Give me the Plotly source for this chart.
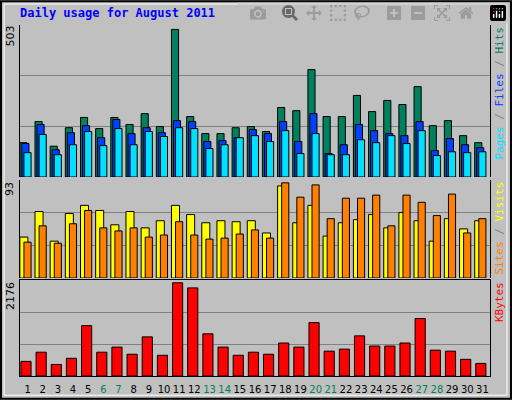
import plotly.graph_objects as go

days = list(range(1, 32))
weekend = [6, 7, 13, 14, 20, 21, 27, 28]

hits = [117, 189, 105, 168, 203, 165, 203, 179, 216, 172, 503, 206, 148, 148, 168, 172,
        155, 237, 226, 366, 206, 206, 278, 223, 261, 247, 308, 175, 192, 141, 117]
files = [114, 179, 93, 151, 175, 134, 196, 148, 168, 151, 192, 189, 121, 124, 134, 162,
         148, 189, 121, 216, 80, 110, 179, 158, 148, 141, 189, 90, 131, 110, 100]
pages = [83, 145, 76, 110, 155, 107, 165, 110, 155, 138, 168, 165, 97, 110, 134, 141,
         121, 158, 80, 148, 76, 76, 127, 117, 141, 114, 158, 73, 86, 83, 86]
sites = [40, 65, 36, 63, 71, 66, 52, 65, 49, 56, 71, 62, 54, 56, 55, 56,
         44, 90, 54, 71, 41, 54, 57, 62, 49, 64, 56, 36, 58, 48, 56]
visits = [35, 51, 34, 53, 66, 49, 46, 49, 40, 42, 55, 42, 38, 39, 43, 47,
          39, 93, 79, 91, 58, 78, 78, 81, 51, 81, 74, 61, 82, 44, 58]
kbytes = [341, 556, 270, 413, 1175, 556, 675, 508, 913, 484, 2176, 2057, 985, 675, 484, 556,
          508, 770, 675, 1247, 580, 627, 937, 699, 699, 770, 1342, 603, 580, 389, 294]

line = dict(color="black", width=1)
fig = go.Figure()

def bars(y, color, offset, width, axis):
    fig.add_trace(go.Bar(x=days, y=y, marker=dict(color=color, line=line),
                         offset=offset, width=width, xaxis="x", yaxis=axis))

bars(hits, "#00805C", -0.51, 0.47, "y")
bars(files, "#0040FF", -0.38, 0.47, "y")
bars(pages, "#00E0FF", -0.24, 0.47, "y")
bars(sites, "#FFFF00", -0.51, 0.53, "y2")
bars(visits, "#FF8000", -0.24, 0.47, "y2")
bars(kbytes, "#FF0000", -0.44, 0.67, "y3")

ticktext = [f"<span style='color:#00805C'>{d}</span>" if d in weekend else str(d) for d in days]

def yax(top, dom):
    return dict(domain=dom, range=[0, top * 1.03], tickvals=[top * 1.03 / 3, top * 2.06 / 3],
                showticklabels=False, gridcolor="#808080", gridwidth=1, zeroline=False,
                showline=True, linecolor="black", mirror=True, anchor="x")

fig.update_layout(
    width=512, height=400, margin=dict(l=0, r=0, t=0, b=0),
    paper_bgcolor="#C0C0C0", plot_bgcolor="#C0C0C0",
    barmode="overlay", showlegend=False,
    font=dict(family="DejaVu Sans", size=11, color="black"),
    xaxis=dict(domain=[20 / 512, 490 / 512], range=[0.5, 31.5], tickvals=days, ticktext=ticktext,
               tickangle=0, tickfont=dict(size=10),
               showgrid=False, showline=True, linecolor="black", mirror=True, anchor="y3",
               ticks="", ticklabelstandoff=4, fixedrange=True),
    yaxis=yax(503, [0.5575, 0.9375]),
    yaxis2=yax(93, [0.305, 0.55]),
    yaxis3=yax(2176, [0.06, 0.3]),
)

for y, t in [(0.94, "503"), (0.55, "93"), (0.3, "2176")]:
    fig.add_annotation(x=10 / 512, y=y, xref="paper", yref="paper", text=t, textangle=-90,
                       showarrow=False, xanchor="center", yanchor="top", font=dict(size=11))

fig.add_annotation(x=18 / 512, y=0.99, xref="paper", yref="paper", showarrow=False,
                   xanchor="left", yanchor="top", text="<b>Daily usage for August 2011</b>",
                   font=dict(family="DejaVu Sans Mono", size=12, color="#0000FF"))
right = [
    (0.9375, "<span style='color:#00E0FF'>Pages</span> / <span style='color:#0040FF'>Files</span>"
             " / <span style='color:#00805C'>Hits</span>"),
    (0.55, "<span style='color:#FF8000'>Sites</span> / <span style='color:#FFFF00'>Visits</span>"),
    (0.3, "<span style='color:#FF0000'>KBytes</span>"),
]
for y, t in right:
    fig.add_annotation(x=499 / 512, y=y, xref="paper", yref="paper", text=t,
                       textangle=-90, showarrow=False, xanchor="center", yanchor="top",
                       font=dict(family="DejaVu Sans Mono", size=11, color="#808080"))

fig.add_shape(type="rect", xref="paper", yref="paper", x0=0.002, y0=0.003, x1=0.998, y1=0.997,
              line=dict(color="black", width=2))
fig.add_shape(type="rect", xref="paper", yref="paper", x0=0.008, y0=0.012, x1=0.99, y1=0.99,
              line=dict(color="white", width=1))

fig.write_html("out.html", post_script="document.body.style.margin='0';document.body.style.overflow='hidden';")
